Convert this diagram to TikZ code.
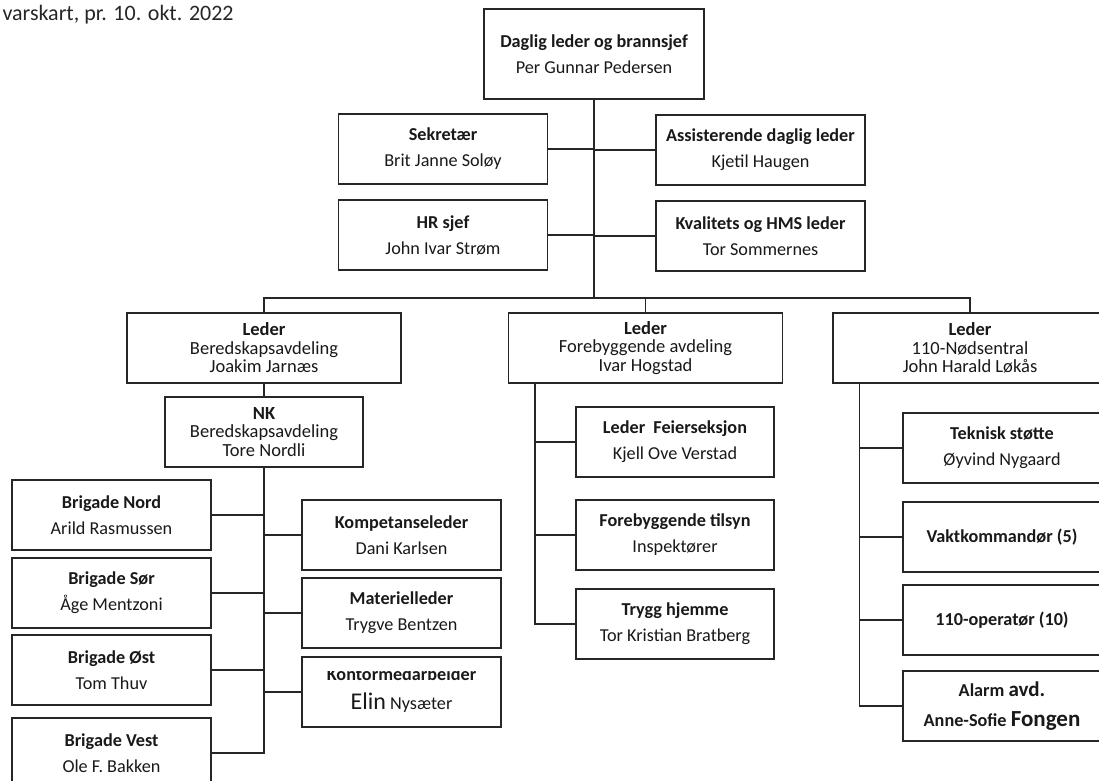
\documentclass[tikz,border=0pt]{standalone}
\usepackage{fontspec}
\setmainfont{Carlito}
\tikzset{
    box/.style={draw=black!85, line width=1.3pt, fill=white, align=center, inner sep=0pt,
        text=black!90, minimum width=198pt, minimum height=70pt, font=\fontsize{18.2}{26}\selectfont},
    lederbox/.style={box, minimum width=274pt, font=\fontsize{18.5}{18.5}\selectfont},
    link/.style={draw=black!85, line width=1.3pt},
}
\begin{document}
\begin{tikzpicture}[x=1pt, y=-1pt]
        \clip (0,0) rectangle (1099,780);
        \fill[white] (0,0) rectangle (1099,780);
        \node[anchor=west, text=black!85, font=\fontsize{22}{22}\selectfont] (title) at (-1,15) {varskart, pr. 10. okt. 2022};

        \node[box, minimum width=220pt, minimum height=90pt] (top) at (594,54) {\textbf{Daglig leder og brannsjef}\\Per Gunnar Pedersen};
        \coordinate (bus) at (594,298);
        \draw[link] (top.south) -- (bus);

        \foreach \name/\x/\y/\rank/\person in {
            sek/443/149/Sekretær/Brit Janne Soløy,
            hr/443/235/HR sjef/John Ivar Strøm,
            ass/760.5/150/Assisterende daglig leder/Kjetil Haugen,
            kval/760.5/236/Kvalitets og HMS leder/Tor Sommernes
        } {
            \node[box, minimum width=209pt] (\name) at (\x,\y) {\textbf{\rank}\\\person};
            \draw[link] (\name) -- (\name -| top.south);
        }

        \foreach \name/\x/\unit/\person in {
            bered/264/Beredskapsavdeling/Joakim Jarnæs,
            fore/645.5/Forebyggende avdeling/Ivar Hogstad,
            nod/970/110-Nødsentral/John Harald Løkås
        } {
            \node[lederbox] (\name) at (\x,348) {\textbf{Leder}\\\unit\\\person};
        }
        \draw[link] (bered.north) |- (bus) -| (nod.north);
        \draw[link] (fore.north) -- (fore.north |- bus);

        \node[box, font=\fontsize{18.5}{18.5}\selectfont] (nk) at (264,432) {\textbf{NK}\\Beredskapsavdeling\\Tore Nordli};
        \draw[link] (bered) -- (nk);

        \foreach \name/\y/\rank/\person in {
            nord/515/Brigade Nord/Arild Rasmussen,
            sor/593/Brigade Sør/Åge Mentzoni,
            ost/670/Brigade Øst/Tom Thuv,
            vest/753/Brigade Vest/Ole F. Bakken
        } {
            \node[box, minimum width=199pt] (\name) at (111.5,\y) {\textbf{\rank}\\\person};
            \draw[link] (nk.south) |- (\name.east);
        }

        \foreach \name/\y/\rank/\person in {
            komp/535/Kompetanseleder/Dani Karlsen,
            mat/613/Materielleder/Trygve Bentzen
        } {
            \node[box, minimum width=199pt] (\name) at (401.5,\y) {\textbf{\rank}\\\person};
            \draw[link] (nk.south) |- (\name.west);
        }
        \node[box, minimum width=199pt] (kontor) at (401.5,692) {\phantom{\textbf{Kontormedarbeider}}\\{\fontsize{24}{24}\selectfont Elin} Nysæter};
        \draw[link] (nk.south) |- (kontor.west);
        \begin{scope}
            \clip (kontor.west |- 0,671) rectangle (kontor.east |- 0,700);
            \node[anchor=base, text=black!90, font=\fontsize{18.2}{26}\selectfont] (kontorhead) at (401.5,680) {\textbf{Kontormedarbeider}};
        \end{scope}

        \foreach \name/\y/\rank/\person in {
            feier/442/Leder\ \ Feierseksjon/Kjell Ove Verstad,
            tilsyn/535/Forebyggende tilsyn/Inspektører,
            trygg/624/Trygg hjemme/Tor Kristian Bratberg
        } {
            \node[box] (\name) at (675,\y) {\textbf{\rank}\\\person};
            \draw[link] (fore.south west) ++(27,0) |- (\name.west);
        }

        \node[box] (tek) at (1002,448) {\textbf{Teknisk støtte}\\Øyvind Nygaard};
        \node[box] (vakt) at (1002,537) {\textbf{Vaktkommandør (5)}};
        \node[box] (oper) at (1002,620) {\textbf{110-operatør (10)}};
        \node[box, font=\fontsize{18.2}{30}\selectfont] (alarm) at (1002,706) {\textbf{Alarm {\fontsize{21}{21}\selectfont avd.}}\\\textbf{Anne-Sofie {\fontsize{23}{23}\selectfont Fongen}}};
        \foreach \name in {tek,vakt,oper,alarm}
            \draw[link] (nod.south west) ++(27,0) |- (\name.west);
    \end{tikzpicture}
\end{document}
